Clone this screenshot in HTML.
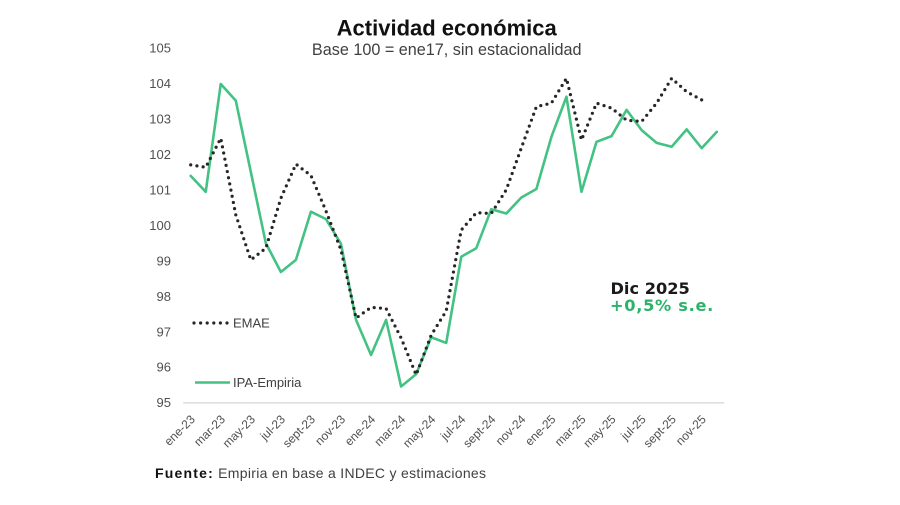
<!DOCTYPE html>
<html>
<head>
<meta charset="utf-8">
<style>
  html, body { margin:0; padding:0; background:#ffffff; }
  body { width:900px; height:505px; overflow:hidden; }
  svg { display:block; }
  text { font-family:"Liberation Sans", Arial, sans-serif; }
</style>
</head>
<body>
<svg width="900" height="505" viewBox="0 0 900 505" xmlns="http://www.w3.org/2000/svg">
  <rect x="0" y="0" width="900" height="505" fill="#ffffff"/>

  <!-- Title -->
  <text x="446.7" y="35.5" text-anchor="middle" font-size="22" font-weight="bold" fill="#111111">Actividad económica</text>
  <text x="446.7" y="55" text-anchor="middle" font-size="16.2" fill="#404040">Base 100 = ene17, sin estacionalidad</text>

  <!-- Y axis labels -->
  <g font-size="13" fill="#505050" text-anchor="end">
    <text x="171" y="52.5">105</text>
    <text x="171" y="88.0">104</text>
    <text x="171" y="123.5">103</text>
    <text x="171" y="158.9">102</text>
    <text x="171" y="194.4">101</text>
    <text x="171" y="229.9">100</text>
    <text x="171" y="265.3">99</text>
    <text x="171" y="300.8">98</text>
    <text x="171" y="336.3">97</text>
    <text x="171" y="371.7">96</text>
    <text x="171" y="407.2">95</text>
  </g>

  <!-- X axis line -->
  <line x1="183.2" y1="402.8" x2="724.3" y2="402.8" stroke="#d9d9d9" stroke-width="1.3"/>

  <!-- X axis labels -->
  <g font-size="12" fill="#505050" text-anchor="end">
    <text transform="translate(195.7,420) rotate(-45)">ene-23</text>
    <text transform="translate(225.8,420) rotate(-45)">mar-23</text>
    <text transform="translate(255.8,420) rotate(-45)">may-23</text>
    <text transform="translate(285.9,420) rotate(-45)">jul-23</text>
    <text transform="translate(315.9,420) rotate(-45)">sept-23</text>
    <text transform="translate(346.0,420) rotate(-45)">nov-23</text>
    <text transform="translate(376.1,420) rotate(-45)">ene-24</text>
    <text transform="translate(406.1,420) rotate(-45)">mar-24</text>
    <text transform="translate(436.2,420) rotate(-45)">may-24</text>
    <text transform="translate(466.2,420) rotate(-45)">jul-24</text>
    <text transform="translate(496.3,420) rotate(-45)">sept-24</text>
    <text transform="translate(526.4,420) rotate(-45)">nov-24</text>
    <text transform="translate(556.4,420) rotate(-45)">ene-25</text>
    <text transform="translate(586.5,420) rotate(-45)">mar-25</text>
    <text transform="translate(616.5,420) rotate(-45)">may-25</text>
    <text transform="translate(646.6,420) rotate(-45)">jul-25</text>
    <text transform="translate(676.7,420) rotate(-45)">sept-25</text>
    <text transform="translate(706.7,420) rotate(-45)">nov-25</text>
  </g>

  <!-- IPA-Empiria (green) -->
  <polyline fill="none" stroke="#44c283" stroke-width="2.6" stroke-linejoin="round" stroke-linecap="round"
    points="190.70,175.85 205.73,191.81 220.76,83.98 235.79,100.65 250.82,171.94 265.85,243.24 280.88,271.97 295.91,259.91 310.94,211.67 325.97,219.12 341.00,243.95 356.03,319.85 371.06,354.97 386.09,319.85 401.12,386.54 416.15,374.12 431.18,337.24 446.21,342.91 461.24,256.72 476.27,248.21 491.30,209.19 506.33,213.44 521.36,197.48 536.39,188.97 551.42,136.83 566.45,96.75 581.48,191.81 596.51,141.80 611.54,136.12 626.57,109.87 641.60,130.09 656.63,142.86 671.66,146.76 686.69,129.38 701.72,148.18 716.75,131.86"/>

  <!-- EMAE (dotted) -->
  <polyline fill="none" stroke="#262626" stroke-width="3.2" stroke-linecap="round" stroke-linejoin="round" stroke-dasharray="0 6.3"
    points="190.70,164.85 205.73,167.33 220.76,138.25 235.79,214.86 250.82,259.91 265.85,248.21 280.88,198.19 295.91,164.14 310.94,175.49 325.97,210.96 341.00,249.98 356.03,318.08 371.06,307.44 386.09,308.50 401.12,338.00 416.15,374.83 431.18,335.11 446.21,310.99 461.24,230.12 476.27,212.74 491.30,213.44 506.33,189.68 521.36,147.83 536.39,106.68 551.42,103.13 566.45,78.30 581.48,140.02 596.51,103.13 611.54,108.10 626.57,120.16 641.60,121.58 656.63,103.13 671.66,78.30 686.69,91.78 701.72,99.94"/>

  <!-- Legend -->
  <line x1="194" y1="323" x2="230" y2="323" stroke="#262626" stroke-width="3.2" stroke-linecap="round" stroke-dasharray="0 6.6"/>
  <text x="233" y="327.5" font-size="13" fill="#404040">EMAE</text>
  <line x1="195" y1="382.5" x2="230" y2="382.5" stroke="#44c283" stroke-width="2.6"/>
  <text x="233" y="387" font-size="13" fill="#404040">IPA-Empiria</text>

  <!-- Annotation -->
  <text x="610.5" y="294" font-size="16.2" font-weight="bold" fill="#1a1a1a" style="font-family:'DejaVu Sans','Liberation Sans',Arial,sans-serif">Dic 2025</text>
  <text x="610" y="311" font-size="16.2" font-weight="bold" fill="#2cb36a" letter-spacing="0.7" style="font-family:'DejaVu Sans','Liberation Sans',sans-serif">+0,5% s.e.</text>

  <!-- Source -->
  <text x="155" y="478" font-size="14" fill="#404040"><tspan font-weight="bold" fill="#111111" letter-spacing="1.2">Fuente:</tspan><tspan letter-spacing="0.3"> Empiria en base a INDEC y estimaciones</tspan></text>
</svg>
</body>
</html>
